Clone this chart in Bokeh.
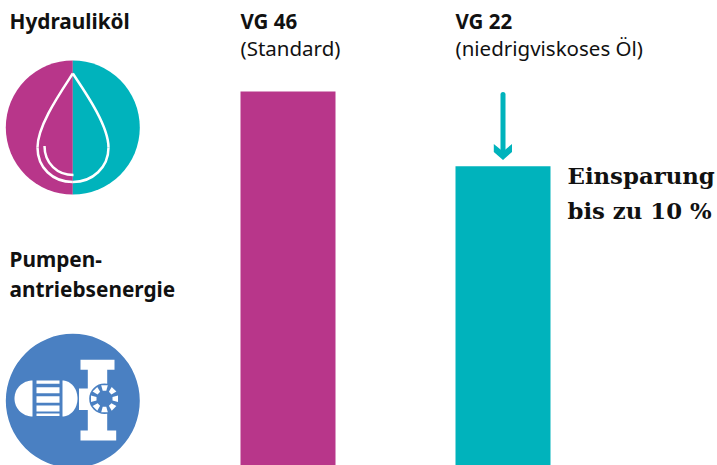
from bokeh.plotting import figure
from bokeh.models import Range1d
from bokeh.embed import file_html
from bokeh.resources import INLINE
from bokeh.core.properties import value
import math

categories = ["VG 46", "VG 22"]
subtitles = ["(Standard)", "(niedrigviskoses Öl)"]
values = [100, 80]
saving_lines = ["Einsparung", "bis zu 10 %"]
side_labels = ["Hydrauliköl", "Pumpen-", "antriebsenergie"]

MAGENTA = "#b8368a"
TEAL = "#00b3bc"
BLUE = "#4a80c2"
DARK = "#111111"

p = figure(width=717, height=465, output_backend="svg", toolbar_location=None,
           x_range=Range1d(-287.5/215, 429.5/215), y_range=Range1d(0, 465/3.74),
           min_border=0, outline_line_color=None, background_fill_color="white",
           border_fill_color="white")
p.axis.visible = False
p.grid.visible = False
p.extra_x_ranges = {"px": Range1d(0, 717)}
p.extra_y_ranges = {"px": Range1d(465, 0)}
PX = dict(x_range_name="px", y_range_name="px")

p.vbar(x=list(range(len(categories))), top=values, bottom=0, width=95/215,
       color=[MAGENTA, TEAL], line_color=None)

def txt(x, y, s, size, bold=False, font="Noto Sans", color=DARK):
    p.text([x], [y], text=[s], text_font=value(font), text_font_size=f"{size}px",
           text_font_style="bold" if bold else "normal", text_color=color,
           text_baseline="alphabetic", text_align="left", **PX)

txt(9, 20, side_labels[0], 20.8, True)
txt(9, 258, side_labels[1], 20.8, True)
txt(9, 288, side_labels[2], 20.8, True)
txt(240, 20, categories[0], 20.5, True)
txt(240, 47, subtitles[0], 20.5)
txt(455, 20, categories[1], 20.5, True)
txt(455, 47, subtitles[1], 20.5)
txt(567, 175, saving_lines[0], 22.8, True, "DejaVu Serif")
txt(567, 210, saving_lines[1], 22.8, True, "DejaVu Serif")

# arrow
p.line([502.5, 502.5], [94, 150], line_color=TEAL, line_width=5, line_cap="round", **PX)
p.patch([493.3, 502.5, 511.5, 511.5, 502.5, 493.3], [143.5, 151, 143.5, 151.5, 159.5, 151.5], color=TEAL, line_color=None, **PX)

# oil icon
cx, cy, r = 72.3, 127, 67
p.wedge([cx], [cy], radius=r, start_angle=math.pi/2, end_angle=3*math.pi/2, color=MAGENTA, line_color=None, **PX)
p.wedge([cx], [cy], radius=r, start_angle=-math.pi/2, end_angle=math.pi/2, color=TEAL, line_color=None, **PX)
W = dict(line_color="white", line_width=2.5, **PX)
p.bezier([72.3], [73], [37], [147], [60], [92], [37], [125], **W)
p.bezier([37], [147], [72.3], [181.5], [37], [167], [52], [181.5], **W)
p.bezier([72.3], [181.5], [108], [147], [92], [181.5], [108], [167], **W)
p.bezier([108], [147], [72.3], [73], [108], [125], [85], [92], **W)
p.bezier([44], [145.5], [73], [174.5], [44], [163], [57], [174.5], **W)

# pump icon
cy2 = 400.3
p.circle([cx], [cy2], radius=r, color=BLUE, line_color=None, **PX)
def dome(x0, rx, ry, yc, sign):
    xs, ys = [], []
    for k in range(41):
        t = -math.pi/2 + math.pi*k/40
        xs.append(x0 + sign*rx*math.cos(t)); ys.append(yc + ry*math.sin(t))
    return xs, ys
for x0, rx, sign in [(32, 18, -1), (62, 15, 1)]:
    xs, ys = dome(x0, rx, 18, 398, sign)
    p.patch(xs, ys, color="white", line_color=None, **PX)
p.quad(left=[36]*5, right=[59]*5,
       top=[380, 386.7, 395.7, 405, 413], bottom=[383.3, 392.7, 402.3, 411, 415.5], color="white", line_color=None, **PX)
p.quad(left=[80, 87.3, 80, 78.5], right=[114, 106.7, 115.7, 90], top=[359.3, 365, 430, 388], bottom=[369.3, 435, 440, 409.5],
       color="white", line_color=None, **PX)
p.circle([104], [398.3], radius=15.3, color=BLUE, line_color=None, **PX)
bx, by = [], []
for k in range(8):
    a = k*math.pi/4
    ca, sa = math.cos(a), math.sin(a)
    pts = [(8, -1.8), (13.5, -3.3), (13.5, 3.3), (8, 1.8)]
    bx.append([104 + u*ca - v*sa for u, v in pts])
    by.append([398.3 + u*sa + v*ca for u, v in pts])
p.patches(bx, by, color="white", line_color=None, **PX)

out = file_html(p, INLINE)
open("out.html", "w").write(out)
